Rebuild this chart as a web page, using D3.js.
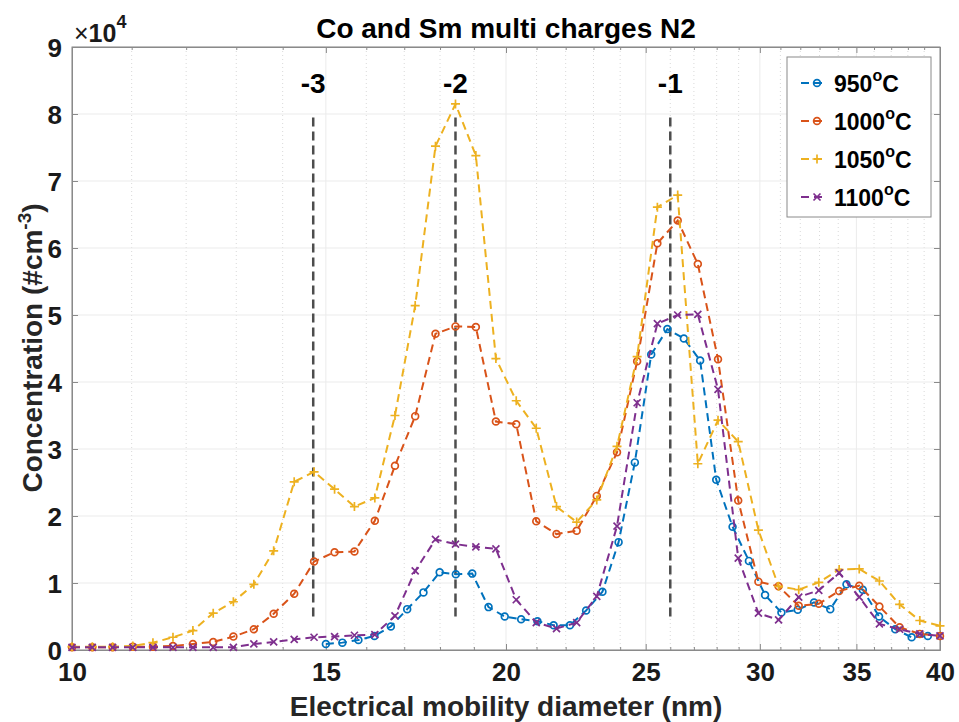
<!DOCTYPE html>
<html><head><meta charset="utf-8">
<script src="https://cdn.jsdelivr.net/npm/d3@7"></script>
<style>body{margin:0;background:#fff}svg{display:block}text{font-family:"Liberation Sans",Arial,Helvetica,sans-serif}</style>
</head><body><svg id="c" width="959" height="722"></svg>
<script>
// ---- data ----
const sizesA = [10.00,10.33,10.67,11.02,11.38,11.75,12.13,12.53,12.94,13.37,13.80,14.26,14.72,15.21,15.70,16.22,16.75,17.30,17.87,18.45,19.06,19.68,20.33,20.99,21.68,22.39,23.12,23.88,24.66,25.47,26.31,27.17,28.06,28.98,29.93,30.91,31.92,32.96,34.05,35.16,36.31,37.50,38.73,40.00];
const sizesB = [15.00,15.40,15.80,16.21,16.64,17.08,17.53,17.99,18.46,18.95,19.45,19.96,20.49,21.03,21.58,22.15,22.73,23.33,23.94,24.57,25.22,25.88,26.57,27.27,27.98,28.72,29.48,30.25,31.05,31.87,32.71,33.57,34.45,35.36,36.29,37.24,38.23,39.23];
const c950  = [0.09,0.11,0.15,0.21,0.35,0.61,0.86,1.16,1.13,1.14,0.64,0.50,0.46,0.43,0.37,0.37,0.59,0.87,1.61,2.80,4.41,4.79,4.65,4.32,2.54,1.84,1.33,0.82,0.56,0.60,0.71,0.61,0.98,0.90,0.50,0.31,0.19,0.21];
const c1000 = [0.04,0.04,0.04,0.05,0.05,0.06,0.09,0.12,0.20,0.31,0.54,0.84,1.32,1.46,1.47,1.93,2.75,3.49,4.72,4.83,4.82,3.41,3.37,1.92,1.73,1.78,2.30,2.95,4.31,6.07,6.41,5.76,4.34,2.23,1.02,0.95,0.66,0.69,0.88,0.96,0.65,0.34,0.24,0.21];
const c1050 = [0.05,0.05,0.05,0.06,0.11,0.19,0.29,0.55,0.72,0.98,1.48,2.51,2.66,2.40,2.14,2.27,3.50,5.14,7.52,8.15,7.38,4.35,3.72,3.31,2.14,1.91,2.24,3.04,4.38,6.61,6.79,2.78,3.43,3.11,1.79,0.95,0.90,1.01,1.20,1.21,1.03,0.68,0.44,0.36];
const c1100 = [0.04,0.04,0.04,0.04,0.04,0.04,0.04,0.04,0.04,0.09,0.12,0.16,0.19,0.20,0.22,0.23,0.51,1.18,1.65,1.58,1.54,1.51,0.75,0.41,0.32,0.41,0.80,1.85,3.69,4.87,5.00,5.01,3.89,1.37,0.55,0.45,0.79,0.89,1.15,0.79,0.39,0.31,0.24,0.21];
const seriesNames = ["950","1000","1050","1100"];
const seriesColors = ["#0072BD","#D95319","#EDB120","#7E2F8E"];
const seriesMarkers = ["circle","circle","plus","cross"];
const xMajorTicks = [10,15,20,25,30,35,40];
const xMinorTicks = [11,12,13,14,16,17,18,19,21,22,23,24,26,27,28,29,31,32,33,34,36,37,38,39];
const yTicks = [0,1,2,3,4,5,6,7,8,9];
const chargeLabels = ["-3","-2","-1"];
const chargeSizes = [14.7,18.45,26.0];
const chargeRange = [0.5,8.0];

const series = [
  {x:sizesB, y:c950},{x:sizesA, y:c1000},{x:sizesA, y:c1050},{x:sizesA, y:c1100}
].map((s,i)=>({name:seriesNames[i],color:seriesColors[i],marker:seriesMarkers[i],pts:s.x.map((d,k)=>[d,s.y[k]])}));

const svg = d3.select("#c");
const L=72,R=940,T=47,B=650;
const x = d3.scaleLog().domain([10,40]).range([L,R]);
const y = d3.scaleLinear().domain([0,9]).range([B,T]);
const axisCol="#8a8a8a";

// grid
const g = svg.append("g");
g.selectAll(".gm").data(xMinorTicks).join("line")
  .attr("x1",d=>x(d)).attr("x2",d=>x(d)).attr("y1",T).attr("y2",B)
  .attr("stroke","#d9d9d9").attr("stroke-width",1).attr("stroke-dasharray","1,3");
g.selectAll(".gx").data(xMajorTicks).join("line")
  .attr("x1",d=>x(d)).attr("x2",d=>x(d)).attr("y1",T).attr("y2",B)
  .attr("stroke","#ebebeb").attr("stroke-width",1);
g.selectAll(".gy").data(yTicks).join("line")
  .attr("x1",L).attr("x2",R).attr("y1",d=>y(d)).attr("y2",d=>y(d))
  .attr("stroke","#ebebeb").attr("stroke-width",1);

// axes via d3
const fs = "26px";
const xb = svg.append("g").attr("transform",`translate(0,${B})`)
  .call(d3.axisBottom(x).tickValues(xMajorTicks).tickFormat(d3.format("d")).tickSizeInner(-6).tickSizeOuter(0).tickPadding(13));
const xbm = svg.append("g").attr("transform",`translate(0,${B})`)
  .call(d3.axisBottom(x).tickValues(xMinorTicks).tickFormat("").tickSizeInner(-3).tickSizeOuter(0));
const xt = svg.append("g").attr("transform",`translate(0,${T})`)
  .call(d3.axisTop(x).tickValues(xMajorTicks).tickFormat("").tickSizeInner(-6).tickSizeOuter(0));
const xtm = svg.append("g").attr("transform",`translate(0,${T})`)
  .call(d3.axisTop(x).tickValues(xMinorTicks).tickFormat("").tickSizeInner(-3).tickSizeOuter(0));
const yl = svg.append("g").attr("transform",`translate(${L},0)`)
  .call(d3.axisLeft(y).tickValues(yTicks).tickFormat(d3.format("d")).tickSizeInner(-6).tickSizeOuter(0).tickPadding(10));
const yr = svg.append("g").attr("transform",`translate(${R},0)`)
  .call(d3.axisRight(y).tickValues(yTicks).tickFormat("").tickSizeInner(-6).tickSizeOuter(0));
[xb,xbm,xt,xtm,yl,yr].forEach(a=>{
  a.select(".domain").attr("stroke",axisCol);
  a.selectAll(".tick line").attr("stroke",axisCol);
  a.selectAll("text").attr("font-size",fs).attr("font-weight","bold").attr("fill","#1a1a1a").attr("font-family",'"Liberation Sans",Arial,sans-serif');
});
yl.selectAll("text").attr("dy","0.36em");
svg.append("rect").attr("x",L).attr("y",T).attr("width",R-L).attr("height",B-T).attr("fill","none").attr("stroke",axisCol).attr("stroke-width",1);

// exponent
const ex = svg.append("text").attr("x",74).attr("y",42).attr("font-size","25px").attr("fill","#1a1a1a");
ex.append("tspan").text("×").attr("font-weight","normal");
ex.append("tspan").text("10").attr("font-weight","bold");
ex.append("tspan").text("4").attr("font-size","18px").attr("font-weight","bold").attr("dy","-14");

// charge lines
chargeSizes.forEach((d,i)=>{
  svg.append("line").attr("x1",x(d)).attr("x2",x(d)).attr("y1",y(chargeRange[0])).attr("y2",y(chargeRange[1]))
    .attr("stroke","#4d4d4d").attr("stroke-width",2.5).attr("stroke-dasharray","9,5");
  svg.append("text").attr("x",x(d)).attr("y",93).attr("text-anchor","middle").attr("font-size","28px")
    .attr("font-weight","bold").attr("fill","#000").text(chargeLabels[i]);
});

// series
const line = d3.line().x(d=>x(d[0])).y(d=>y(d[1]));
function marker(sel,type,color){
  if(type==="circle"){
    sel.append("circle").attr("r",3.4).attr("fill","none").attr("stroke",color).attr("stroke-width",1.7);
  } else if(type==="plus"){
    sel.append("path").attr("d","M-4.5,0H4.5M0,-4.5V4.5").attr("stroke",color).attr("stroke-width",1.7);
  } else {
    sel.append("path").attr("d","M-3.5,-3.5L3.5,3.5M-3.5,3.5L3.5,-3.5").attr("stroke",color).attr("stroke-width",1.7);
  }
}
series.forEach(s=>{
  svg.append("path").datum(s.pts).attr("d",line).attr("fill","none").attr("stroke",s.color)
    .attr("stroke-width",2).attr("stroke-dasharray","8,5");
  svg.append("g").selectAll("g").data(s.pts).join("g")
    .attr("transform",d=>`translate(${x(d[0])},${y(d[1])})`)
    .each(function(){ marker(d3.select(this),s.marker,s.color); });
});

// title & labels
svg.append("text").attr("x",506).attr("y",38).attr("text-anchor","middle").attr("font-size","28px")
  .attr("font-weight","bold").attr("fill","#000").text("Co and Sm multi charges N2");
svg.append("text").attr("x",506).attr("y",716).attr("text-anchor","middle").attr("font-size","28px")
  .attr("font-weight","bold").attr("fill","#262626").text("Electrical mobility diameter (nm)");
const ylab = svg.append("text").attr("transform","translate(42,348) rotate(-90)").attr("text-anchor","middle")
  .attr("font-size","28px").attr("font-weight","bold").attr("fill","#262626");
ylab.append("tspan").text("Concentration (#cm");
ylab.append("tspan").text("-3").attr("font-size","19px").attr("dy","-11");
ylab.append("tspan").text(")").attr("dy","11");

// legend
const lg = svg.append("g");
lg.append("rect").attr("x",787).attr("y",57).attr("width",144).attr("height",160).attr("fill","#fff").attr("stroke",axisCol).attr("stroke-width",1);
series.forEach((s,i)=>{
  const cy = 83 + i*38;
  lg.append("line").attr("x1",801).attr("x2",826).attr("y1",cy).attr("y2",cy).attr("stroke",s.color).attr("stroke-width",2).attr("stroke-dasharray","8,5");
  const m = lg.append("g").attr("transform",`translate(817,${cy})`);
  marker(m,s.marker,s.color);
  const t = lg.append("text").attr("x",834).attr("y",cy+9).attr("font-size","23px").attr("font-weight","bold").attr("fill","#000");
  t.append("tspan").text(s.name);
  t.append("tspan").text("o").attr("font-size","16px").attr("dy","-11");
  t.append("tspan").text("C").attr("dy","11");
});
</script></body></html>
